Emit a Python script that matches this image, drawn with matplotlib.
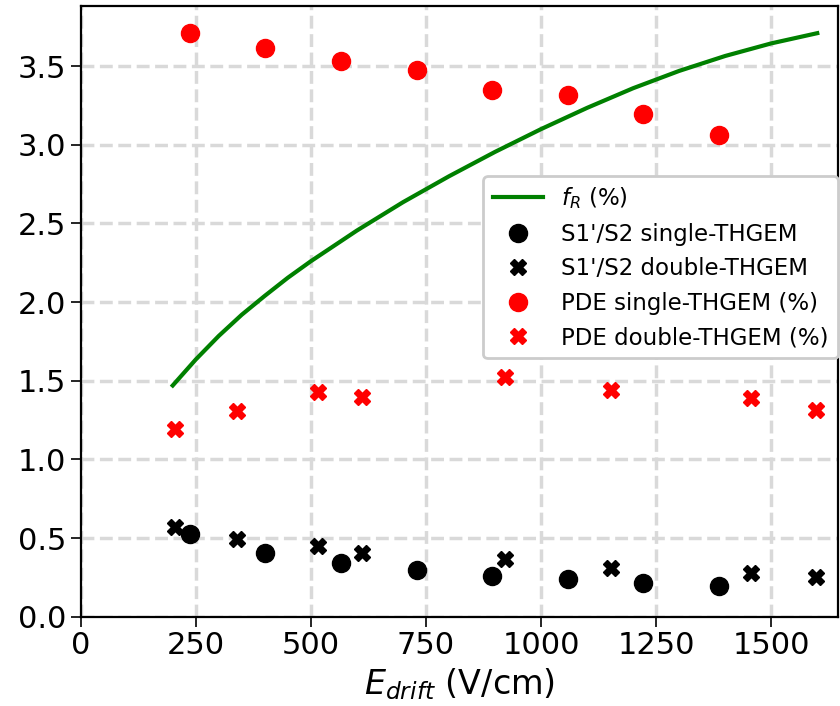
import matplotlib
matplotlib.use("Agg")
import matplotlib.pyplot as plt

# ---------------------------------------------------------------
# Data
# ---------------------------------------------------------------
# recombination fraction curve f_R (%)
fr_field = [200, 250, 300, 350, 400, 450, 500, 600, 700, 800, 900, 1000,
            1100, 1200, 1300, 1400, 1500, 1600]
fr_value = [1.47, 1.635, 1.785, 1.92, 2.04, 2.155, 2.26, 2.455, 2.635, 2.80,
            2.955, 3.10, 3.235, 3.36, 3.47, 3.565, 3.645, 3.71]

# single-THGEM runs
single_field = [237, 401, 565, 730, 894, 1058, 1222, 1386]
s1s2_single = [0.526, 0.407, 0.339, 0.297, 0.261, 0.238, 0.216, 0.197]
pde_single = [3.71, 3.618, 3.536, 3.474, 3.349, 3.32, 3.195, 3.063]

# double-THGEM runs
double_field = [204, 340, 516, 611, 922, 1153, 1456, 1597]
s1s2_double = [0.568, 0.496, 0.450, 0.407, 0.365, 0.312, 0.276, 0.254]
pde_double = [1.196, 1.308, 1.431, 1.399, 1.526, 1.442, 1.393, 1.314]


def main():
    plt.rcParams["font.family"] = "DejaVu Sans"
    fig = plt.figure(figsize=(8.4, 7.06), dpi=100)
    ax = fig.add_axes([0.096, 0.1265, 0.9016, 0.8655])

    ax.plot(fr_field, fr_value, color="green", linewidth=3, label=r"$f_R$ (%)")
    ax.plot(single_field, s1s2_single, "o", color="black", markersize=13,
            linestyle="none", label="S1'/S2 single-THGEM")
    ax.plot(double_field, s1s2_double, "X", color="black", markersize=11,
            linestyle="none", label="S1'/S2 double-THGEM")
    ax.plot(single_field, pde_single, "o", color="red", markersize=13,
            linestyle="none", label="PDE single-THGEM (%)")
    ax.plot(double_field, pde_double, "X", color="red", markersize=11,
            linestyle="none", label="PDE double-THGEM (%)")

    ax.set_xlim(0, 1645)
    ax.set_ylim(0, 3.885)
    ax.set_xticks([0, 250, 500, 750, 1000, 1250, 1500])
    ax.set_yticks([0.0, 0.5, 1.0, 1.5, 2.0, 2.5, 3.0, 3.5])

    ax.grid(True, color="#d9d9d9", linestyle="--", linewidth=2.5)
    ax.set_axisbelow(True)
    for sp in ax.spines.values():
        sp.set_linewidth(1.6)
    ax.tick_params(axis="both", labelsize=22, width=1.2, length=7)

    ax.set_xlabel(r"$E_{drift}$ (V/cm)", fontsize=24, labelpad=4)

    leg = ax.legend(loc="center right", bbox_to_anchor=(1.0, 0.572),
                    fontsize=16.5, framealpha=1.0, borderaxespad=0.0,
                    handlelength=2.2)
    leg.get_frame().set_edgecolor("#cccccc")
    leg.get_frame().set_linewidth(2.0)

    fig.savefig("out.png", dpi=100)


if __name__ == "__main__":
    main()
